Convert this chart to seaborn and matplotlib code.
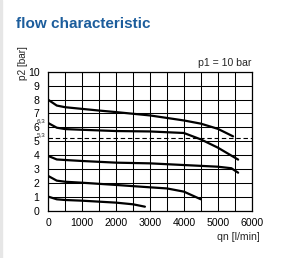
import matplotlib.pyplot as plt
import matplotlib.ticker as ticker
import matplotlib.patches as patches
import numpy as np
import pandas as pd
import seaborn as sns

# curves: qn [l/min] -> p2 [bar]
q_8 = [0, 250, 500, 1000, 1500, 2000, 2500, 3000, 4000, 4500, 5000, 5450]
p_8 = [7.98, 7.57, 7.45, 7.33, 7.21, 7.1, 6.98, 6.86, 6.5, 6.27, 5.9, 5.36]
q_63 = [0, 250, 500, 1000, 2000, 3000, 4000, 4500, 5000, 5600]
p_63 = [6.31, 5.98, 5.88, 5.83, 5.74, 5.71, 5.6, 5.14, 4.55, 3.69]
q_4 = [0, 250, 500, 1000, 2000, 3000, 4000, 5000, 5400, 5600]
p_4 = [3.95, 3.7, 3.66, 3.59, 3.47, 3.42, 3.3, 3.18, 3.07, 2.75]
q_25 = [0, 250, 500, 1000, 2000, 3000, 3500, 4000, 4500]
p_25 = [2.51, 2.18, 2.1, 2.03, 1.87, 1.7, 1.62, 1.39, 0.84]
q_1 = [0, 250, 500, 1000, 2000, 2500, 2850]
p_1 = [1.03, 0.84, 0.79, 0.74, 0.6, 0.48, 0.31]

dashed_level = 5.25
x_ticks = [0, 1000, 2000, 3000, 4000, 5000, 6000]
y_ticks = list(range(0, 11))

curves = {"8": (q_8, p_8), "6.3": (q_63, p_63), "4": (q_4, p_4),
          "2.5": (q_25, p_25), "1": (q_1, p_1)}
df = pd.concat(
    [pd.DataFrame({"qn": q, "p2": p, "curve": name}) for name, (q, p) in curves.items()],
    ignore_index=True,
)

sns.set_style("white")
plt.rcParams["font.family"] = ["Liberation Sans", "DejaVu Sans"]

fig = plt.figure(figsize=(3.03, 2.58), dpi=100)
ax = fig.add_axes([48.3 / 303, 1 - 211 / 258, 203.4 / 303, 139.3 / 258])

sns.lineplot(data=df, x="qn", y="p2", units="curve", estimator=None, sort=False,
             color="black", lw=1.6, ax=ax)
ax.axhline(dashed_level, color="black", lw=0.8, ls=(0, (4, 2.5)))

ax.set_xlim(0, 6000)
ax.set_ylim(0, 10)
ax.set_xticks(x_ticks)
ax.set_yticks(y_ticks)
ax.xaxis.set_minor_locator(ticker.MultipleLocator(500))
ax.grid(True, which="both", color="black", lw=0.75)
ax.tick_params(axis="both", which="both", direction="out", length=2.3, width=0.75,
               color="black", labelsize=7.6, labelcolor="black")
ax.tick_params(axis="x", pad=2.5)
ax.tick_params(axis="y", pad=4)
ax.set_xlabel("")
ax.set_ylabel("")
for s in ax.spines.values():
    s.set_color("black")
    s.set_linewidth(0.9)

# small level marks
tr = ax.get_yaxis_transform()
ax.text(-0.012, 6.28, "6,3", transform=tr, ha="right", va="bottom", fontsize=4.5)
ax.text(-0.012, 5.28, "5,3", transform=tr, ha="right", va="bottom", fontsize=4.5)

fig.text(23.5 / 303, 1 - 63 / 258, "p2 [bar]", rotation=90, ha="center", va="center",
         fontsize=7.2)
fig.text(260 / 303, 1 - 237 / 258, "qn [l/min]", ha="right", va="center", fontsize=7.6)
fig.text(251.7 / 303, 1 - 63.5 / 258, "p1 = 10 bar", ha="right", va="center", fontsize=7.6)
fig.text(16 / 303, 1 - 27.5 / 258, "flow characteristic", ha="left", va="baseline",
         fontsize=11, fontweight="bold", color="#1c5d9c")

fig.patches.append(patches.Rectangle((0, 0), 2 / 303, 1, transform=fig.transFigure,
                                     color="#e6e6e6", zorder=0))

fig.savefig("out.png", dpi=100)
